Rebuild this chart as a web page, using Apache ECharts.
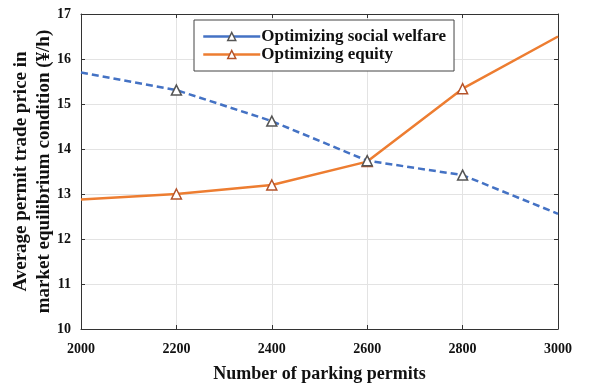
<!DOCTYPE html>
<html>
<head>
<meta charset="utf-8">
<script src="https://cdn.jsdelivr.net/npm/echarts@6/dist/echarts.min.js"></script>
<style>
  html, body { margin: 0; padding: 0; background: #fff; }
  #chart { width: 607px; height: 383px; }
</style>
</head>
<body>
<div id="chart"></div>
<script>
// Number of parking permits issued
const permits = [2000, 2200, 2400, 2600, 2800, 3000];
// Average permit trade price (¥/h) under each optimization objective
const socialWelfare = [15.70, 15.31, 14.62, 13.74, 13.42, 12.56];
const equity = [12.88, 13.00, 13.20, 13.72, 15.34, 16.50];
const seriesNames = ['Optimizing social welfare', 'Optimizing equity'];

const FONT = '"Times New Roman", "Liberation Serif", serif';
const AXIS_COLOR = '#333';

// Markers are drawn on the interior points only
function toPoints(values) {
  return values.map((v, i) => {
    const p = { value: [permits[i], v] };
    if (i === 0 || i === values.length - 1) p.symbol = 'none';
    return p;
  });
}

const chart = echarts.init(document.getElementById('chart'), null, { renderer: 'canvas' });

const frameAxisX = {
  type: 'value', min: 2000, max: 3000, interval: 200,
  axisLine: { show: true, lineStyle: { color: AXIS_COLOR, width: 1 } },
  axisTick: { show: true, inside: true, length: 4, lineStyle: { color: AXIS_COLOR } },
  splitLine: { show: false },
  axisLabel: { show: false }
};
const frameAxisY = {
  type: 'value', min: 10, max: 17, interval: 1,
  axisLine: { show: true, lineStyle: { color: AXIS_COLOR, width: 1 } },
  axisTick: { show: true, inside: true, length: 4, lineStyle: { color: AXIS_COLOR } },
  splitLine: { show: false },
  axisLabel: { show: false }
};

chart.setOption({
  animation: false,
  backgroundColor: '#fff',
  grid: { left: 81, right: 49, top: 14, bottom: 54, containLabel: false, outerBoundsMode: 'none' },
  legend: {
    left: 194, top: 20,
    orient: 'vertical',
    backgroundColor: '#fff',
    borderColor: '#444', borderWidth: 1,
    padding: [8, 8, 8, 8],
    itemGap: 1,
    itemWidth: 57, itemHeight: 10,
    textStyle: { fontFamily: FONT, fontWeight: 'bold', fontSize: 17, color: '#111', padding: [0, 0, 0, -4] },
    data: [
      { name: seriesNames[0], itemStyle: { color: '#fff', borderColor: '#555', borderWidth: 1.5 }, lineStyle: { type: 'solid', color: '#4472c4', width: 2.5 } },
      { name: seriesNames[1], itemStyle: { color: '#fff', borderColor: '#b4532a', borderWidth: 1.5 }, lineStyle: { type: 'solid', color: '#ed7d31', width: 2.5 } }
    ]
  },
  xAxis: [
    {
      type: 'value', min: 2000, max: 3000, interval: 200,
      position: 'bottom',
      name: 'Number of parking permits',
      nameLocation: 'middle', nameGap: 36, nameMoveOverlap: false,
      nameTextStyle: { fontFamily: FONT, fontWeight: 'bold', fontSize: 18, color: '#111' },
      axisLine: { show: true, lineStyle: { color: AXIS_COLOR, width: 1 } },
      axisTick: { show: true, inside: true, length: 4, lineStyle: { color: AXIS_COLOR } },
      axisLabel: { fontFamily: FONT, fontWeight: 'bold', fontSize: 14, color: '#111', margin: 13, formatter: v => String(v) },
      splitLine: { show: true, lineStyle: { color: '#e3e3e3', width: 1 } }
    },
    Object.assign({ position: 'top' }, frameAxisX)
  ],
  yAxis: [
    {
      type: 'value', min: 10, max: 17, interval: 1,
      position: 'left',
      name: 'Average permit trade price in\nmarket equilibrium condition (¥/h)',
      nameLocation: 'middle', nameGap: 25, nameMoveOverlap: false,
      nameTextStyle: { fontFamily: FONT, fontWeight: 'bold', fontSize: 19, color: '#111', lineHeight: 23 },
      axisLine: { show: true, lineStyle: { color: AXIS_COLOR, width: 1 } },
      axisTick: { show: true, inside: true, length: 4, lineStyle: { color: AXIS_COLOR } },
      axisLabel: { fontFamily: FONT, fontWeight: 'bold', fontSize: 14, color: '#111', margin: 10 },
      splitLine: { show: true, lineStyle: { color: '#e3e3e3', width: 1 } }
    },
    Object.assign({ position: 'right' }, frameAxisY)
  ],
  series: [
    {
      name: seriesNames[0], type: 'line',
      data: toPoints(socialWelfare),
      symbol: 'triangle', symbolSize: 10,
      lineStyle: { color: '#4472c4', width: 2.5, type: [7, 4] },
      itemStyle: { color: '#fff', borderColor: '#555', borderWidth: 1.5 },
      z: 3
    },
    {
      name: seriesNames[1], type: 'line',
      data: toPoints(equity),
      symbol: 'triangle', symbolSize: 10,
      lineStyle: { color: '#ed7d31', width: 2.5, type: 'solid' },
      itemStyle: { color: '#fff', borderColor: '#b4532a', borderWidth: 1.5 },
      z: 2
    }
  ]
});
</script>
</body>
</html>
